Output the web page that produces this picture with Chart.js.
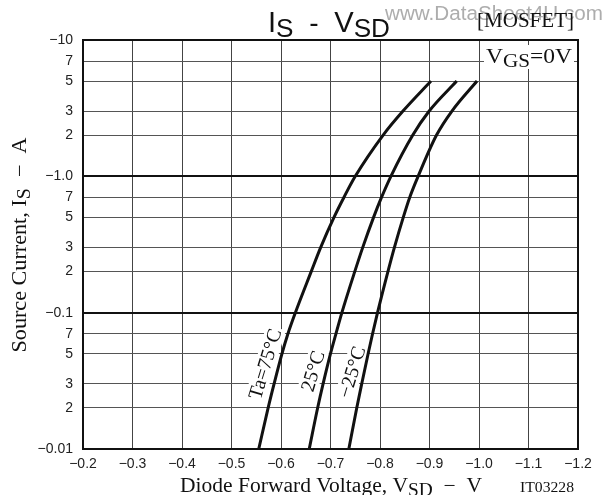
<!DOCTYPE html>
<html><head><meta charset="utf-8">
<script src="https://cdn.jsdelivr.net/npm/chart.js@4"></script>
<style>html,body{margin:0;padding:0;background:#fff}canvas{display:block}</style>
</head><body>
<canvas id="c" width="604" height="495"></canvas>
<script>
// Source current magnitude |IS| (A)
const currents = [0.01,0.02,0.03,0.05,0.07,0.1,0.2,0.3,0.5,0.7,1,2,3,5];
// Diode forward voltage magnitude |VSD| (V) per temperature
const vsd_75  = [0.555,0.574,0.586,0.602,0.614,0.629,0.661,0.680,0.707,0.727,0.750,0.806,0.846,0.903];
const vsd_25  = [0.657,0.674,0.685,0.700,0.711,0.723,0.749,0.765,0.787,0.803,0.822,0.866,0.899,0.955];
const vsd_m25 = [0.737,0.753,0.763,0.776,0.785,0.795,0.816,0.829,0.847,0.860,0.877,0.914,0.945,0.996];
const seriesNames = ['Ta=75°C','25°C','−25°C'];
const yTicks = [0.01,0.02,0.03,0.05,0.07,0.1,0.2,0.3,0.5,0.7,1,2,3,5,7,10];
const xTicks = [0.2,0.3,0.4,0.5,0.6,0.7,0.8,0.9,1.0,1.1,1.2];

const mk = arr => arr.map((v,i)=>({x:v,y:currents[i]}));
const decades = [0.01,0.1,1,10];
const isDec = v => decades.some(d=>Math.abs(d-v)<1e-9);

function drawRich(ctx, parts, x, y, align, target){
  let w=0; parts.forEach(p=>{ctx.font=p.font; p.w=ctx.measureText(p.t).width; w+=p.w;});
  const k = target? target/w : 1;
  const tw = w*k;
  let sx = align==='center'? x-tw/2 : align==='right'? x-tw : x;
  ctx.save(); ctx.translate(sx,y); ctx.scale(k,1);
  let cx=0;
  parts.forEach(p=>{ctx.font=p.font; ctx.fillText(p.t, cx, (p.dy||0)); cx+=p.w;});
  ctx.restore();
  return tw;
}

const serif = s => s+'px "Liberation Serif"';
const sans = s => s+'px "Liberation Sans"';

const textPlugin = {
  id:'texts',
  beforeDatasetsDraw(chart){
    const ctx=chart.ctx, xs=chart.scales.x, ys=chart.scales.y;
    ctx.save();
    ctx.textBaseline='middle'; ctx.textAlign='left';
    const labels=[
      {t:seriesNames[0], v:0.568, c:0.042},
      {t:seriesNames[1], v:0.6646, c:0.0373},
      {t:seriesNames[2], v:0.7434, c:0.0366}
    ];
    ctx.font=serif(20);
    labels.forEach(l=>{
      const px=xs.getPixelForValue(l.v), py=ys.getPixelForValue(l.c);
      const w=ctx.measureText(l.t).width;
      ctx.save(); ctx.translate(px,py); ctx.rotate(-73*Math.PI/180);
      ctx.fillStyle='#fff'; ctx.fillRect(-w/2-2,-10,w+4,20);
      ctx.fillStyle='#111'; ctx.textAlign='center'; ctx.fillText(l.t,0,1);
      ctx.restore();
    });
    // VGS box
    ctx.fillStyle='#fff'; ctx.fillRect(484,45,90,24);
    ctx.fillStyle='#111'; ctx.textBaseline='alphabetic';
    drawRich(ctx,[{t:'V',font:serif(20)},{t:'GS',font:serif(18),dy:4},{t:'=0V',font:serif(20)}],486,63,'left',86);
    ctx.restore();
  },
  afterDraw(chart){
    const ctx=chart.ctx;
    ctx.save();
    ctx.textBaseline='alphabetic'; ctx.textAlign='left';
    // watermark
    ctx.fillStyle='#adadad';
    drawRich(ctx,[{t:'www.DataSheet4U.com',font:sans(20)}],385,20,'left',218);
    ctx.fillStyle='#111';
    // title
    drawRich(ctx,[{t:'I',font:sans(29)},{t:'S',font:sans(26),dy:5},{t:'  -  ',font:sans(28)},{t:'V',font:sans(29)},{t:'SD',font:sans(26),dy:5}],268,32,'left',122);
    drawRich(ctx,[{t:'[MOSFET]',font:serif(20)}],477,27,'left',97);
    // x title
    drawRich(ctx,[{t:'Diode Forward Voltage, V',font:serif(20)},{t:'SD',font:serif(18),dy:4},{t:'  −  V',font:serif(20)}],180,492,'left',302);
    drawRich(ctx,[{t:'IT03228',font:serif(15.5)}],520,492,'left',54);
    // y title
    ctx.save(); ctx.translate(26,245); ctx.rotate(-Math.PI/2);
    drawRich(ctx,[{t:'Source Current, I',font:serif(20)},{t:'S',font:serif(18),dy:4},{t:'  −  A',font:serif(20)}],0,0,'center',215);
    ctx.restore();
    ctx.restore();
  }
};

const ds = (d)=>({data:mk(d),borderColor:'#111',borderWidth:3,pointRadius:0,fill:false,cubicInterpolationMode:'monotone',showLine:true});

new Chart(document.getElementById('c'),{
  type:'line',
  data:{datasets:[ds(vsd_75),ds(vsd_25),ds(vsd_m25)]},
  options:{
    responsive:false, animation:false,
    layout:{padding:{left:0,top:40,right:26,bottom:0}},
    plugins:{legend:{display:false},tooltip:{enabled:false},title:{display:false}},
    scales:{
      x:{type:'linear',min:0.2,max:1.2,
        afterBuildTicks(s){s.ticks=xTicks.map(v=>({value:v}));},
        afterFit(s){s.height=46;},
        grid:{color:'#444',lineWidth:1,drawTicks:false},
        border:{display:true,color:'#111',width:2},
        ticks:{padding:7,color:'#222',font:{family:'"Liberation Sans"',size:14},maxRotation:0,autoSkip:false,
          callback:v=>'−'+Number(v).toFixed(1)}
      },
      y:{type:'logarithmic',min:0.01,max:10,
        afterBuildTicks(s){s.ticks=yTicks.map(v=>({value:v}));},
        afterFit(s){s.width=83;},
        grid:{color:c=>isDec(c.tick.value)?'#111':'#555',lineWidth:c=>isDec(c.tick.value)?2:1,drawTicks:false},
        border:{display:true,color:'#111',width:2},
        ticks:{padding:10,color:'#222',font:{family:'"Liberation Sans"',size:14},autoSkip:false,
          callback:v=>{ if(v===10) return '−10'; if(v===1) return '−1.0'; if(v===0.1) return '−0.1'; if(v===0.01) return '−0.01';
            return String(Math.round(v/Math.pow(10,Math.floor(Math.log10(v)+1e-9))));}
        }
      }
    }
  },
  plugins:[textPlugin, {id:'frame',afterDraw(chart){const a=chart.chartArea,ctx=chart.ctx;ctx.save();ctx.strokeStyle='#111';ctx.lineWidth=2;ctx.strokeRect(a.left,a.top,a.right-a.left,a.bottom-a.top);ctx.restore();}}]
});
</script>
</body></html>
